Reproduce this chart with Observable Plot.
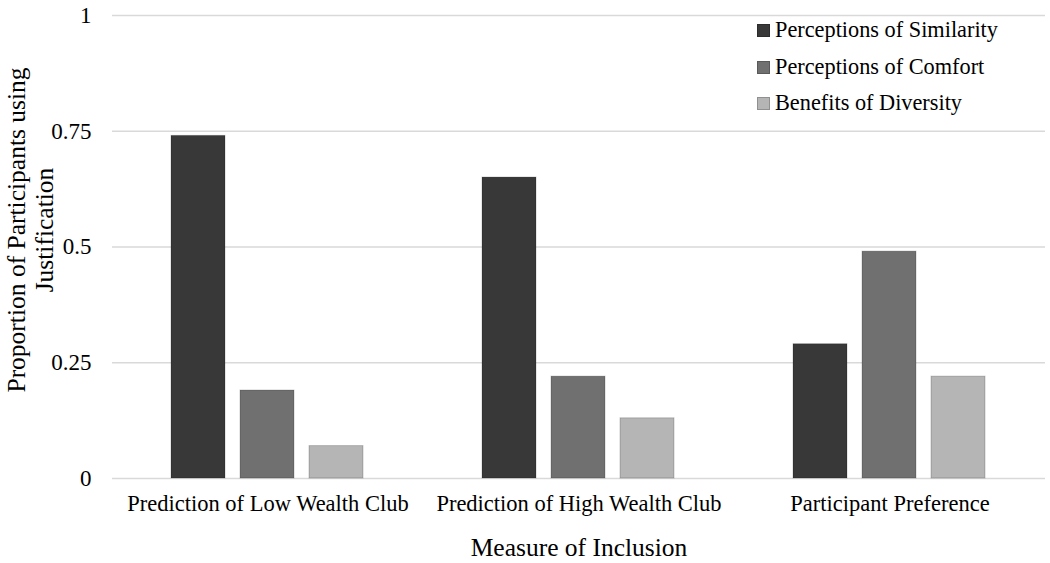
<!DOCTYPE html>
<html>
<head>
<meta charset="utf-8">
<script src="https://cdn.jsdelivr.net/npm/d3@7"></script>
<script src="https://cdn.jsdelivr.net/npm/@observablehq/plot@0.6"></script>
<style>
  body { margin: 0; background: #fff; }
  #wrap { position: relative; width: 1050px; height: 563px; font-family: "Liberation Serif", "Times New Roman", serif; color: #000; }
  #legend { position: absolute; left: 757px; top: 12px; font-size: 22.3px; line-height: 36.7px; }
  #legend .row { display: flex; align-items: center; white-space: nowrap; }
  #legend .sw { width: 13px; height: 13px; margin-right: 5px; box-sizing: border-box; border: 1px solid rgba(0,0,0,0.2); }
  #ylabel { position: absolute; left: 31px; top: 230px; transform: translate(-50%, -50%) rotate(-90deg); font-size: 25.5px; line-height: 28px; text-align: center; white-space: nowrap; }
</style>
</head>
<body>
<div id="wrap"></div>
<script>
const groups = ["Prediction of Low Wealth Club", "Prediction of High Wealth Club", "Participant Preference"];
const series = ["Perceptions of Similarity", "Perceptions of Comfort", "Benefits of Diversity"];
const similarity = [0.74, 0.65, 0.29];
const comfort = [0.19, 0.22, 0.49];
const diversity = [0.07, 0.13, 0.22];
const yTicks = [0, 0.25, 0.5, 0.75, 1];
const palette = ["#383838", "#707070", "#b5b5b5"];
const xTitle = "Measure of Inclusion";
const yTitle = ["Proportion of Participants using", "Justification"];

const seriesValues = [similarity, comfort, diversity];
const data = [];
groups.forEach((g, gi) => series.forEach((s, si) => data.push({group: g, series: s, value: seriesValues[si][gi]})));

const chart = Plot.plot({
  width: 1050,
  height: 563,
  marginLeft: 112,
  marginRight: 5,
  marginTop: 15,
  marginBottom: 85,
  style: {fontFamily: "Liberation Serif, Times New Roman, serif", fontSize: "22.5px", color: "#000", background: "white", overflow: "visible"},
  fx: {domain: groups, padding: 0},
  x: {domain: series, paddingInner: 0.217, paddingOuter: 0.862, axis: null},
  y: {domain: [0, 1]},
  color: {domain: series, range: palette},
  marks: [
    Plot.ruleY(yTicks, {stroke: "#d9d9d9", strokeWidth: 1.5}),
    Plot.barY(data, {fx: "group", x: "series", y: "value", fill: "series", stroke: "#000", strokeOpacity: 0.2, strokeWidth: 1}),
    Plot.axisY(yTicks, {tickSize: 0, tickPadding: 21, label: null, fontSize: 23, tickFormat: d => String(d)}),
    Plot.axisFx({anchor: "bottom", tickSize: 0, tickPadding: 17, label: null, fontSize: 22.5}),
    Plot.axisFx({anchor: "bottom", ticks: [], tickSize: 0, label: xTitle, labelAnchor: "center", labelOffset: 77, fontSize: 25.5})
  ]
});

const wrap = document.getElementById("wrap");
wrap.appendChild(chart);

const legend = document.createElement("div");
legend.id = "legend";
series.forEach((s, i) => {
  const row = document.createElement("div");
  row.className = "row";
  const sw = document.createElement("span");
  sw.className = "sw";
  sw.style.background = palette[i];
  const t = document.createElement("span");
  t.textContent = s;
  row.appendChild(sw);
  row.appendChild(t);
  legend.appendChild(row);
});
wrap.appendChild(legend);

const yl = document.createElement("div");
yl.id = "ylabel";
yl.innerHTML = yTitle.map(t => `<div>${t}</div>`).join("");
wrap.appendChild(yl);
</script>
</body>
</html>
